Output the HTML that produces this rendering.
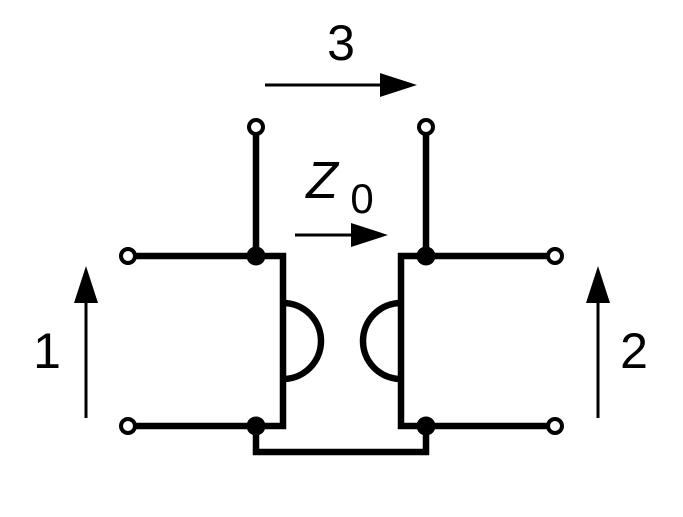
<!DOCTYPE html>
<html><head><style>body{margin:0;background:#fff}</style></head><body>
<svg width="683" height="512" xmlns="http://www.w3.org/2000/svg">
<g stroke="#000" stroke-width="6.5" fill="none">
<path d="M134,256 H283 V426 H134"/>
<path d="M549,256 H401 V426 H549"/>
<path d="M256,133 V256 M426,133 V256"/>
<path d="M256,426 V452 H426 V426"/>
<path d="M283,303 A38,38 0 0 1 283,379"/>
<path d="M401,303 A38,38 0 0 0 401,379"/>
</g>
<g stroke="#000" stroke-width="4" fill="#fff">
<circle cx="128" cy="256" r="7"/><circle cx="128" cy="426" r="7"/>
<circle cx="256" cy="127" r="7"/><circle cx="426" cy="127" r="7"/>
<circle cx="555" cy="256" r="7"/><circle cx="555" cy="426" r="7"/>
</g>
<g fill="#000">
<circle cx="256" cy="256" r="9.5"/><circle cx="256" cy="426" r="9.5"/>
<circle cx="426" cy="256" r="9.5"/><circle cx="426" cy="426" r="9.5"/>
</g>
<g stroke="#000" stroke-width="3">
<line x1="265" y1="85" x2="385" y2="85"/>
<line x1="295" y1="235" x2="355" y2="235"/>
<line x1="86" y1="418" x2="86" y2="300"/>
<line x1="598" y1="418" x2="598" y2="300"/>
</g>
<g fill="#000">
<polygon points="417,85 380,73 380,97"/>
<polygon points="388,235 351,223 351,247"/>
<polygon points="86,266 74,303 98,303"/>
<polygon points="598,266 586,303 610,303"/>
</g>
<g font-family="Liberation Sans, DejaVu Sans, sans-serif" font-size="50" fill="#000">
<text x="341" y="60" text-anchor="middle">3</text>
<text x="47" y="368" text-anchor="middle">1</text>
<text x="634" y="368" text-anchor="middle">2</text>
<text x="322" y="198" text-anchor="middle" font-style="italic" font-size="52">Z</text>
<text x="362" y="213" text-anchor="middle" font-size="42">0</text>
</g>
</svg>
</body></html>
